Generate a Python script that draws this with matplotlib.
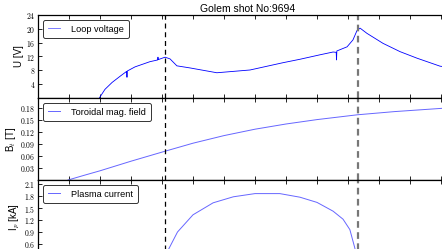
import numpy as np
import matplotlib
matplotlib.use("Agg")
import matplotlib.pyplot as plt
from matplotlib.ticker import FixedLocator, FuncFormatter

plt.rcParams['font.family'] = ['Liberation Sans', 'DejaVu Sans']
plt.rcParams['mathtext.fontset'] = 'cm'

# time axis in arbitrary units (one tick per unit)
t_u = [1.95, 2.0, 2.16, 2.39, 2.65, 2.86, 2.87, 2.88,
       3.13, 3.61, 3.86, 3.87, 3.88, 3.94, 4.1, 4.26, 4.48, 4.9, 5.77, 6.84,
       7.9, 8.45, 9.1, 9.52, 9.62, 9.63, 9.64, 9.97, 10.16, 10.29, 10.39,
       10.61, 11.13, 11.68, 12.23, 12.97, 13.5]
U_loop = [-0.5, 0.3, 2.5, 4.5, 6.3, 7.7, 6.0, 7.8,
          9.0, 10.5, 11.0, 11.8, 11.1, 11.3, 11.8, 11.3, 9.3, 8.7, 7.3, 8.1,
          10.2, 11.2, 12.5, 13.3, 13.2, 11.0, 13.6, 14.8, 16.8, 19.5, 20.2,
          18.7, 15.8, 13.4, 11.5, 9.2, 8.6]

t_b = [0.97, 1.5, 2.0, 3.0, 4.1, 5.0, 6.0, 7.0, 8.0, 9.0, 10.3, 11.5, 13.0, 13.5]
B_tor = [0.0, 0.012, 0.023, 0.047, 0.072, 0.092, 0.111, 0.127, 0.140, 0.151,
         0.163, 0.171, 0.179, 0.181]

t_p = [4.2, 4.5, 5.0, 5.65, 6.3, 7.0, 7.8, 8.45, 9.0, 9.52, 9.84, 10.06, 10.22, 10.35]
I_p = [0.45, 0.9, 1.33, 1.63, 1.78, 1.86, 1.86, 1.77, 1.64, 1.42, 1.22, 0.96, 0.5, 0.0]

t_start, t_end = 4.1, 10.32
title = "Golem shot No:9694"

fig = plt.figure(figsize=(4.42, 2.49), dpi=100)
left, width = 38 / 442, 418.5 / 442
ax1 = fig.add_axes([left, 151 / 249, width, 83 / 249])
ax2 = fig.add_axes([left, 69 / 249, width, 82 / 249], sharex=ax1)
# bottom panel runs past the lower edge of the picture
ax3 = fig.add_axes([left, -4 / 249, width, 73 / 249], sharex=ax1)

ax1.plot(t_u, U_loop, color='#0000ff', lw=0.6, label='Loop voltage')
ax2.plot(t_b, B_tor, color='#6666ff', lw=0.7, label='Toroidal mag. field')
ax3.plot(t_p, I_p, color='#6666ff', lw=0.7, label='Plasma current')

ax1.set_ylim(0, 24)
ax2.set_ylim(0, 0.205)
ax3.set_ylim(2.2 - 73 / 40, 2.2)
ax1.set_xlim(0, 13.5)

ax1.yaxis.set_major_locator(FixedLocator([4, 8, 12, 16, 20, 24]))
ax2.yaxis.set_major_locator(FixedLocator([0.03, 0.06, 0.09, 0.12, 0.15, 0.18]))
ax3.yaxis.set_major_locator(FixedLocator([0.6, 0.9, 1.2, 1.5, 1.8, 2.1]))
ax1.xaxis.set_major_locator(FixedLocator(range(0, 14)))

ax1.set_ylabel('U [V]', fontsize=7, labelpad=1.5)
ax2.set_ylabel(r'B$_t$ [T]', fontsize=7, labelpad=1.5)
ax3.set_ylabel(r'I$_p$ [kA]', fontsize=7, labelpad=1.5)
ax1.set_title(title, fontsize=7.5, pad=2)

for ax in (ax1, ax2, ax3):
    ax.yaxis.set_major_formatter(FuncFormatter(lambda v, p: r'$%g$' % v))
    ax.tick_params(direction='in', top=True, right=True, length=3, width=0.6,
                   labelsize=5.5, pad=2, labelbottom=False)
    for s in ax.spines.values():
        s.set_linewidth(0.9)
    ax.axvline(t_start, color='k', ls=(0, (4, 3)), lw=0.9)
    ax.axvline(t_end, color='#777777', ls=(0, (3, 2)), lw=1.6)
    leg = ax.legend(loc='upper left', fontsize=6.6, handlelength=1.4,
                    handletextpad=1.2, borderpad=0.5, borderaxespad=0.55,
                    fancybox=True, framealpha=1)
    leg.get_frame().set_edgecolor('#333333')
    leg.get_frame().set_linewidth(0.7)
    leg.get_lines()[0].set_color('#6666ff')

fig.savefig('out.png', dpi=100)
